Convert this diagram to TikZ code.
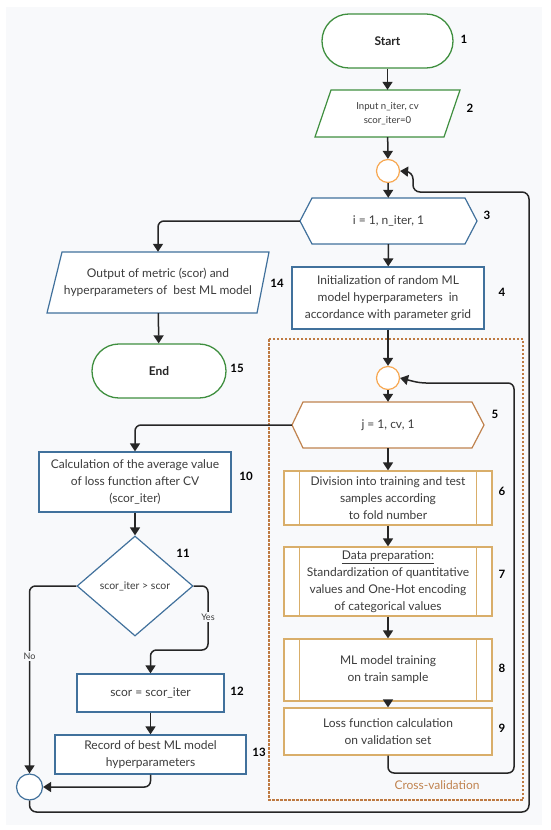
\documentclass[tikz,border=0pt]{standalone}
\usepackage{fontspec}
\setmainfont{Lato}
\usetikzlibrary{arrows.meta,shapes.geometric,calc}
\definecolor{bgc}{HTML}{F8F9FB}
\definecolor{blueC}{HTML}{41719C}
\definecolor{greenC}{HTML}{3F8F3F}
\definecolor{orangeC}{HTML}{F7A852}
\definecolor{brownC}{HTML}{C0834F}
\definecolor{dashC}{HTML}{BE7A42}
\definecolor{goldC}{HTML}{D9AE6A}
\definecolor{lineC}{HTML}{262626}
\definecolor{txtc}{HTML}{3C3C3C}
\begin{document}
\begin{tikzpicture}[x=1pt,y=-1pt,
  txt/.style={font=\fontsize{12}{16.8}\selectfont, text=txtc, align=center},
  small/.style={font=\fontsize{9.6}{13.8}\selectfont, text=txtc, align=center},
  bluebox/.style={draw=blueC, fill=white, line width=1.2pt, txt, inner sep=2pt},
  goldbox/.style={draw=goldC, fill=white, line width=1.2pt, txt, inner sep=2pt},
  term/.style={draw=greenC, fill=white, line width=1.3pt, rounded corners=26.9pt,
     minimum height=54pt, font=\fontsize{12}{14}\selectfont\bfseries, text=lineC},
  ghost/.style={inner sep=0pt, txt},
  conn/.style={circle, fill=white, line width=1.2pt, minimum size=23pt, inner sep=0pt},
  num/.style={font=\fontsize{11.5}{14}\selectfont\bfseries, text=black},
  lbl/.style={font=\fontsize{9}{11}\selectfont, text=txtc, fill=bgc, inner sep=1.5pt},
  arr/.style={draw=lineC, line width=1.5pt, -{Triangle[length=8pt,width=10pt]}, rounded corners=6pt},
  shp/.style={fill=white, line width=1.2pt, line join=miter}
]
\useasboundingbox (0,0) rectangle (550,830);
\fill[bgc] (6,7) rectangle (542,825);

% cross-validation frame
\draw[dashC, line width=1.3pt, dash pattern=on 2.5pt off 1.5pt] (269,339) rectangle (523,800);
\node[font=\fontsize{12}{14}\selectfont, text=brownC] (cvl) at (437,785) {Cross-validation};

% 1 start
\node[term, minimum width=131pt] (start) at (387.5,41) {Start};
\node[num] (n1) at (464,39) {1};

% 2 input
\draw[shp, draw=greenC] (331,90) -- (460,90) -- (444,137) -- (315,137) -- cycle;
\node[ghost, small, minimum width=129pt, minimum height=47pt] (inp) at (387.5,113.5) {Input n\_iter, cv\\scor\_iter=0};
\node[num] (n2) at (470,108) {2};

% connector 1
\node[conn, draw=orangeC] (c1) at (388,171) {};

% 3 hexagon
\draw[shp, draw=blueC] (300,221) -- (312,198) -- (465,198) -- (477,221) -- (465,244) -- (312,244) -- cycle;
\node[ghost, minimum width=177pt, minimum height=46pt] (h3) at (388.5,221) {i = 1, n\_iter, 1};
\node[num] (n3) at (487,215) {3};

% 14 output
\draw[shp, draw=blueC] (62,252) -- (269,252) -- (257,313) -- (47,313) -- cycle;
\node[ghost, minimum width=200pt, minimum height=61pt] (p14) at (158,282.5) {Output of metric (scor) and\\hyperparameters of \ best ML model};
\node[num] (n14) at (277,283) {14};

% 15 end
\node[term, minimum width=134pt] (end) at (159,371) {End};
\node[num] (n15) at (237,368) {15};

% 4 init
\node[bluebox, minimum width=192pt, minimum height=62pt] (b4) at (388,298) {Initialization of random ML\\model hyperparameters \ in\\accordance with parameter grid};
\node[num] (n4) at (502,292) {4};

% connector 2
\node[conn, draw=orangeC] (c2) at (388,378) {};

% 5 hexagon
\draw[shp, draw=brownC] (292,425) -- (303,402) -- (472,402) -- (484,425) -- (472,448) -- (303,448) -- cycle;
\node[ghost, minimum width=192pt, minimum height=46pt] (h5) at (388,425) {j = 1, cv, 1};
\node[num] (n5) at (495,414) {5};

% 6-9
\node[goldbox, minimum width=208pt, minimum height=54pt] (b6) at (388,498) {Division into training and test\\samples according\\to fold number};
\node[goldbox, minimum width=208pt, minimum height=69pt] (b7) at (388,581.5) {\underline{Data preparation:}\\Standardization of quantitative\\values and One-Hot encoding\\of categorical values};
\node[goldbox, minimum width=208pt, minimum height=62pt] (b8) at (388,670) {ML model training\\on train sample};
\node[goldbox, minimum width=208pt, minimum height=47pt] (b9) at (388,731.5) {Loss function calculation\\on validation set};
\foreach \b in {b6,b7,b8}{
  \draw[goldC, line width=1.2pt] ([xshift=16pt]\b.north west) -- ([xshift=16pt]\b.south west);
  \draw[goldC, line width=1.2pt] ([xshift=-16pt]\b.north east) -- ([xshift=-16pt]\b.south east);
}
\node[num] (n6) at (502,491) {6};
\node[num] (n7) at (502,574) {7};
\node[num] (n8) at (502,668) {8};
\node[num] (n9) at (502,728) {9};

% 10
\node[bluebox, minimum width=192pt, minimum height=60pt] (b10) at (135,482) {Calculation of the average value\\of loss function after CV\\(scor\_iter)};
\node[num] (n10) at (246,476) {10};

% 11 diamond
\node[diamond, draw=blueC, fill=white, line width=1.2pt, minimum width=116pt, minimum height=100pt, inner sep=0pt, text=txtc, font=\fontsize{10.5}{12}\selectfont] (d11) at (135,586) {scor\_iter > scor};
\node[num] (n11) at (183,553) {11};

% 12, 13
\node[bluebox, minimum width=147pt, minimum height=38pt] (b12) at (150.5,693) {scor = scor\_iter};
\node[num] (n12) at (237,691) {12};
\node[bluebox, minimum width=191pt, minimum height=39pt] (b13) at (150.5,754.5) {Record of best ML model\\hyperparameters};
\node[num] (n13) at (259,752) {13};

% connector 3
\node[conn, draw=blueC, minimum size=26pt] (c3) at (29.5,787) {};

% arrows
\draw[arr] (start) -- (inp);
\draw[arr] (inp) -- (c1);
\draw[arr] (c1) -- (h3);
\draw[arr] (h3.west) -| (p14.north);
\draw[arr] (p14) -- (end);
\draw[arr] (h3) -- (b4);
\draw[arr] (b4) -- (c2);
\draw[arr] (c2) -- (h5);
\draw[arr] (h5) -- (b6);
\draw[arr] (b6) -- (b7);
\draw[arr] (b7) -- (b8);
\draw[arr] (b8) -- (b9);
\draw[arr] (b9.south) -- (388,773) -- (514,773) -- (514,383) -- (420,383) -- (c2.east);
\draw[arr] (h5.west) -| (b10.north);
\draw[arr] (b10) -- (d11);
\draw[arr] (d11.east) -- (208,586) -- (208,650) -- (150.5,650) -- (b12.north);
\draw[arr] (d11.west) -| (c3.north);
\draw[arr] (b12) -- (b13);
\draw[arr] (b13.south) |- (c3.east);
\draw[arr, rounded corners=7pt] (c3.south) -- (29.5,812) -- (529,812) -- (529,192) -- (413,192) -- (413,172) -- (c1.east);

% branch labels
\node[lbl] (yes) at (208,617) {Yes};
\node[lbl] (no) at (29.5,656) {No};
\end{tikzpicture}
\end{document}
